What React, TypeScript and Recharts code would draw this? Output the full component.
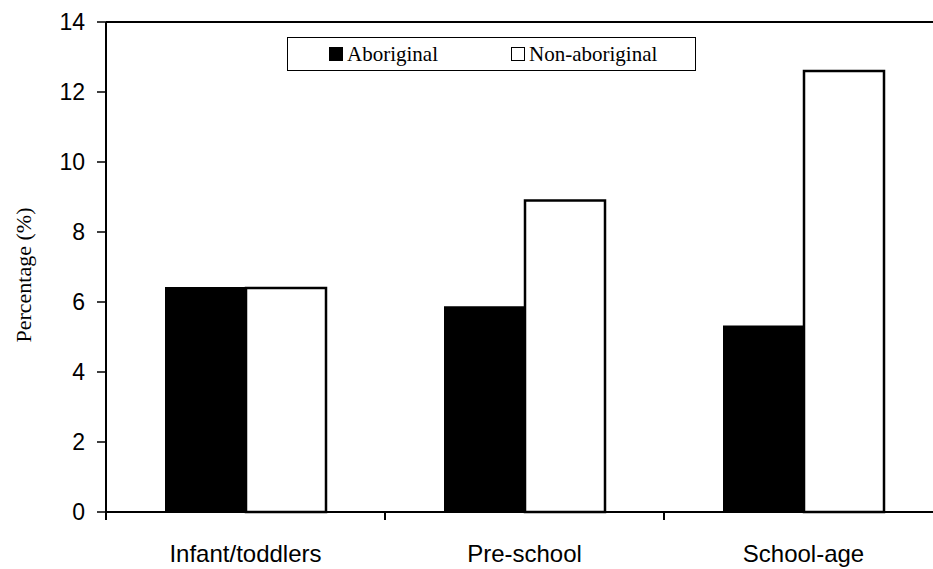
import { Bar, BarChart, Legend, ReferenceLine, XAxis, YAxis } from "recharts";

const categories = ["Infant/toddlers", "Pre-school", "School-age"];
const aboriginal = [6.4, 5.85, 5.3];
const nonAboriginal = [6.4, 8.9, 12.6];
const yTicks = [0, 2, 4, 6, 8, 10, 12, 14];

const data = categories.map((group, i) => ({
  group,
  aboriginal: aboriginal[i],
  nonAboriginal: nonAboriginal[i],
}));

const sans = "'Liberation Sans', Arial, sans-serif";
const serif = "'Liberation Serif', 'Times New Roman', serif";
const LABEL_GAP = 33;

// category label plus a tick mark on the left edge of each group
function GroupTick(props: any) {
  const { x, y, payload } = props;
  const half = payload?.offset ?? 0;
  const axisY = y - LABEL_GAP;
  return (
    <g>
      {half > 0 && (
        <line x1={x - half} x2={x - half} y1={axisY} y2={axisY + 8} stroke="#000" strokeWidth={2} />
      )}
      <text x={x} y={y} dy="0.71em" textAnchor="middle" fill="#000" fontSize={24} fontFamily={sans}>
        {payload.value}
      </text>
    </g>
  );
}

function LegendBox({ payload }: { payload?: any[] }) {
  return (
    <div
      style={{
        border: "1.5px solid #000",
        width: 409,
        height: 34,
        display: "flex",
        alignItems: "center",
        fontFamily: serif,
        fontSize: 21,
        boxSizing: "border-box",
        background: "#fff",
      }}
    >
      {(payload ?? []).map((p, i) => (
        <span
          key={p.value}
          style={{ display: "flex", alignItems: "center", marginLeft: i === 0 ? 41 : 73 }}
        >
          <span
            style={{
              width: 14,
              height: 14,
              background: p.payload?.fill ?? p.color,
              border: "1.5px solid #000",
              boxSizing: "border-box",
              marginRight: 4,
            }}
          />
          {p.value}
        </span>
      ))}
    </div>
  );
}

export default function App() {
  return (
    <div style={{ position: "fixed", left: 0, top: 0, width: 933, height: 569, overflow: "hidden", background: "#fff" }}>
      <BarChart
        width={960}
        height={569}
        data={data}
        margin={{ top: 22, right: 17, bottom: 56, left: 0 }}
        barGap={0}
        barSize={80}
      >
        <XAxis
          dataKey="group"
          height={1}
          axisLine={{ stroke: "#000", strokeWidth: 2 }}
          tickLine={false}
          tickSize={0}
          tickMargin={LABEL_GAP}
          tick={<GroupTick />}
          interval={0}
        />
        <YAxis
          width={106}
          domain={[0, 14]}
          ticks={yTicks}
          interval={0}
          axisLine={{ stroke: "#000", strokeWidth: 2 }}
          tickLine={{ stroke: "#000", strokeWidth: 1.5 }}
          tickSize={9}
          tickMargin={12}
          tick={{ fill: "#000", fontSize: 23, fontFamily: sans }}
          label={{
            value: "Percentage (%)",
            angle: -90,
            position: "insideLeft",
            dx: 18,
            dy: 8,
            style: { fill: "#000", fontSize: 22, fontFamily: serif, textAnchor: "middle" },
          }}
        />
        <ReferenceLine y={14} stroke="#000" strokeWidth={2} />
        <Legend
          layout="horizontal"
          verticalAlign="middle"
          content={<LegendBox />}
          wrapperStyle={{ position: "absolute", top: 37, left: 287, width: 409 }}
        />
        <Bar
          dataKey="aboriginal"
          name="Aboriginal"
          fill="#000"
          stroke="#000"
          strokeWidth={2}
          isAnimationActive={false}
        />
        <Bar
          dataKey="nonAboriginal"
          name="Non-aboriginal"
          fill="#fff"
          stroke="#000"
          strokeWidth={2.5}
          isAnimationActive={false}
        />
      </BarChart>
    </div>
  );
}
